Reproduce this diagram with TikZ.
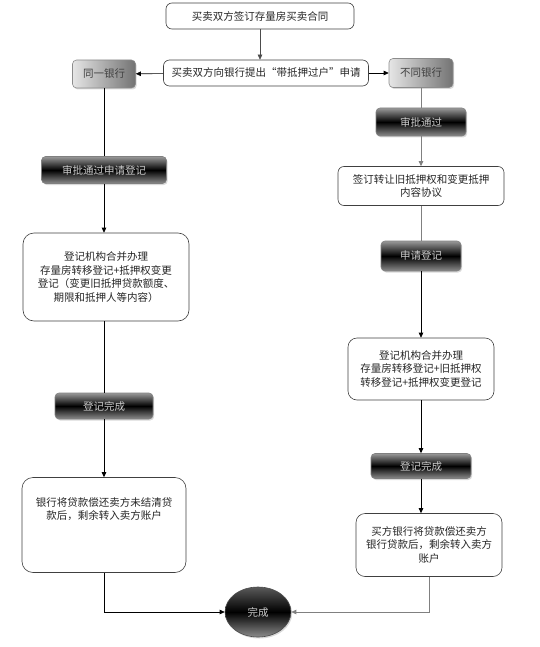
\documentclass[tikz,border=0pt]{standalone}
\usepackage{fontspec}
\newfontfamily\cjk{Noto Sans CJK SC}
\usetikzlibrary{arrows.meta,shadows,shapes.geometric}
\begin{document}
\begin{tikzpicture}[x=1pt,y=-1pt,
  font=\cjk\fontsize{10.5}{13.5}\selectfont,
  wbox/.style={draw=black!75, rounded corners=6pt, fill=white, align=center,
    inner sep=1pt, line width=0.6pt, text=black!85},
  bigbox/.style={wbox, rounded corners=11pt},
  dbox/.style={draw=black!50, rounded corners=4pt, text=white!80!black,
    top color=black!40, bottom color=black!45, middle color=black,
    drop shadow={shadow xshift=1.2pt,shadow yshift=-1.5pt,opacity=0.3},
    line width=0.6pt, inner sep=1pt},
  gbox/.style={draw=black!45, rounded corners=4pt, left color=black!10,
    right color=black!55, text=black!75,
    drop shadow={shadow xshift=1.2pt,shadow yshift=-1.5pt,opacity=0.3},
    line width=0.6pt, inner sep=1pt},
  arr/.style={-{Triangle[length=5pt,width=4.5pt]}, line width=0.6pt},
  ln/.style={line width=0.6pt},
  gln/.style={line width=0.8pt, draw=black!50},
]
\useasboundingbox (0,0) rectangle (539,647);

% top
\node[wbox, minimum width=188pt, minimum height=26pt] (n1) at (260,16) {买卖双方签订存量房买卖合同};
\node[wbox, minimum width=205pt, minimum height=26pt] (n2) at (266,73) {买卖双方向银行提出“带抵押过户”申请};
\node[gbox, minimum width=63pt, minimum height=28pt] (same) at (104,74) {同一银行};
\node[gbox, minimum width=64pt, minimum height=29pt] (diff) at (421,73) {不同银行};

% left column
\node[dbox, minimum width=125pt, minimum height=27pt] (a1) at (104,170) {审批通过申请登记};
\node[bigbox, minimum width=166pt, minimum height=88pt] (b1) at (106,277)
  {登记机构合并办理\\存量房转移登记+抵押权变更\\登记（变更旧抵押贷款额度、\\期限和抵押人等内容）};
\node[dbox, minimum width=98pt, minimum height=26pt] (c1) at (104,406) {登记完成};
\node[bigbox, minimum width=164pt, minimum height=95pt] (d1) at (104,525) {};
\node[align=center, anchor=north, text=black!85, inner sep=0pt] (d1t) at ([yshift=-20pt]d1.north)
  {银行将贷款偿还卖方未结清贷\\款后，剩余转入卖方账户};

% right column
\node[dbox, minimum width=90pt, minimum height=28pt] (a2) at (421,122) {审批通过};
\node[wbox, minimum width=166pt, minimum height=39pt] (b2) at (421,186)
  {签订转让旧抵押权和变更抵押\\内容协议};
\node[dbox, minimum width=80pt, minimum height=30pt] (c2) at (421,256) {申请登记};
\node[bigbox, rounded corners=9pt, minimum width=146pt, minimum height=62pt] (d2) at (421,369)
  {登记机构合并办理\\存量房转移登记+旧抵押权\\转移登记+抵押权变更登记};
\node[dbox, minimum width=100pt, minimum height=25pt] (e2) at (421,466) {登记完成};
\node[bigbox, rounded corners=9pt, minimum width=146pt, minimum height=63pt] (f2) at (429,545)
  {买方银行将贷款偿还卖方\\银行贷款后，剩余转入卖方\\账户};

% end
\node[ellipse, draw=black!70, line width=0.6pt, minimum width=66pt, minimum height=50pt,
  top color=black!65, bottom color=black!45, middle color=black, text=white!80!black,
  drop shadow={shadow xshift=1.2pt,shadow yshift=-1.5pt,opacity=0.3}] (end) at (258,612) {完成};

% connectors
\draw[arr, draw=black!70] (n1) -- (n1 |- n2.north);
\draw[arr] (n2) -- (same);
\draw[arr] (n2) -- (diff);

\draw[ln] (same) -- (a1);
\draw[arr] (a1) -- (b1.north -| a1);
\draw[ln] (b1.south -| c1) -- (c1);
\draw[arr] (c1) -- (d1);
\draw[arr] (d1) |- (end);

\draw[gln] (diff) -- (a2);
\draw[arr, draw=black!50] (a2) -- (b2);
\draw[gln] (b2) -- (c2);
\draw[arr] (c2) -- (d2);
\draw[arr] (d2) -- (e2);
\draw[arr] (e2) -- (e2 |- f2.north);
\draw[arr, draw=black!50, line width=0.8pt] (f2) |- (end);
\end{tikzpicture}
\end{document}
